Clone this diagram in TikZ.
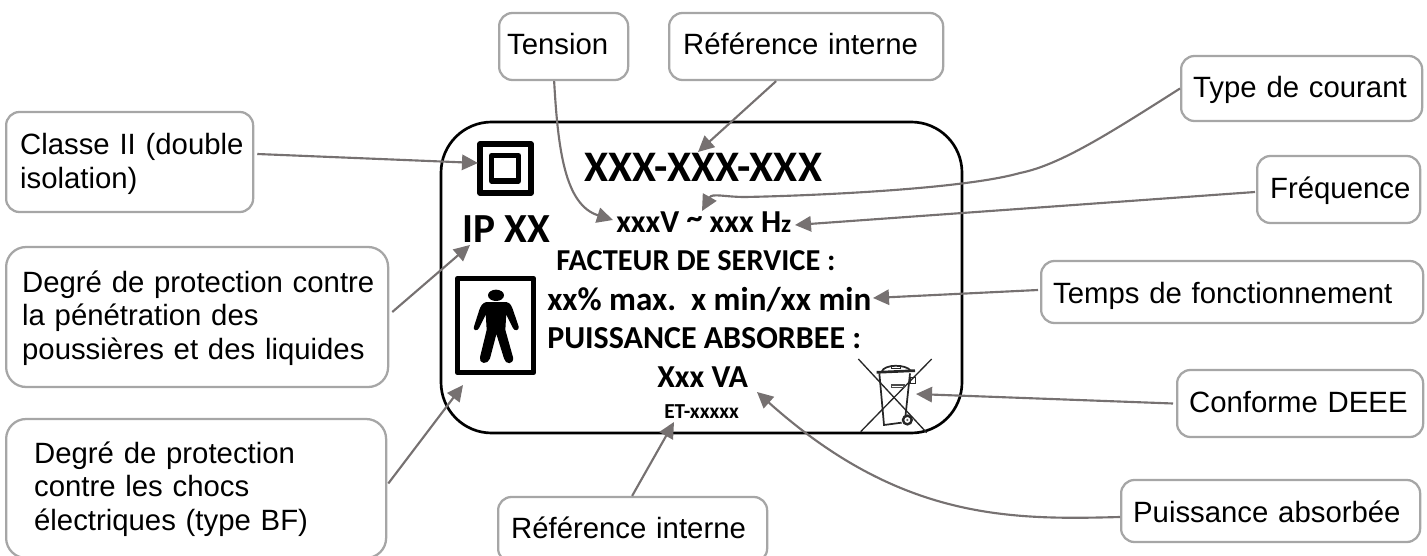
\documentclass[tikz,border=0pt]{standalone}
\usepackage{fontspec}
\setmainfont{Liberation Sans}
\newfontfamily\lab{Carlito}[BoldFont=Carlito Bold]
\usetikzlibrary{arrows.meta,calc}
\definecolor{boxgray}{RGB}{166,166,166}
\definecolor{arrowgray}{RGB}{118,113,113}
% callout={left}{top}{right}{bottom}{text left}{first baseline}, in reference pixels
\tikzset{
  callout/.style n args={6}{draw=boxgray,line width=1.7pt,anchor=base west,align=left,
    inner ysep=0pt,inner xsep={(#5-#1)*0.75pt},
    text width={(#3-#1-2*(#5-#1))*0.75pt},
    text height={(#6-#2)*0.75pt},text depth={(#4-#6)*0.75pt},
    font=\fontsize{22}{25.4}\selectfont},
  smallround/.style={rounded corners=10pt},
  biground/.style={rounded corners=15pt},
  pointer/.style={draw=arrowgray,line width=1.6pt,-{Triangle[length=12pt,width=11.5pt]}},
  plate/.style={inner sep=0pt,anchor=base west,font=\lab\bfseries\fontsize{#1}{#1}\selectfont},
  ink/.style={draw=black,line width=#1,line join=round}
}
\begin{document}
\begin{tikzpicture}[x=0.75pt,y=-0.75pt]
\useasboundingbox (0,0) rectangle (1427,556);
% plate
\draw[black,line width=2pt,rounded corners=38pt] (441,122) rectangle (962,433);
% plate texts
\node[plate=32.7] (code) at (584,181) {XXX-XXX-XXX};
\node[plate=31] (ip) at (462,242) {IP XX};
\node[plate=24] (volt) at (616,232) {xxxV \raisebox{2.5pt}{\char`~}{} xxx H{\fontsize{19}{19}\selectfont z}};
\node[plate=22.8] (fact) at (556,270) {FACTEUR DE SERVICE :};
\node[plate=24.8] (duty) at (547,310) {xx\% max.\ \ x min/xx min};
\node[plate=24] (power) at (547,348) {PUISSANCE ABSORBEE :};
\node[plate=24] (va) at (657,387) {Xxx VA};
\node[plate=16] (et) at (664,418) {ET-xxxxx};
% class II symbol
\draw[ink=4pt] (480,144) rectangle (531,193);
\draw[ink=3.8pt] (491.5,155.5) rectangle (518.5,181);
% body symbol
\draw[ink=4pt] (457.5,278.5) rectangle (533.5,372.5);
\begin{scope}[shift={(430,270)},x=0.25pt,y=-0.25pt]
\fill[black] (198,76) ellipse [x radius=24,y radius=17];
\draw[black,fill=black,line width=1pt,line join=round]
  (170,98) -- (228,98) .. controls (240,100) and (243,110) .. (247,120)
  -- (264,170) .. controls (266,180) and (254,182) .. (250,172)
  -- (227,126) -- (224,180) -- (247,262) .. controls (250,282) and (228,282) .. (224,265)
  -- (199,185) -- (178,265) .. controls (172,282) and (148,280) .. (152,262)
  -- (172,180) -- (169,126) -- (146,172) .. controls (142,182) and (130,180) .. (134,170)
  -- (150,120) .. controls (154,110) and (158,100) .. (170,98) -- cycle;
\end{scope}
% recycling bin
\begin{scope}[shift={(780,340)},x=0.25pt,y=-0.25pt]
\draw[black!85,line width=1pt] (235,57) -- (440,278);
\draw[black!85,line width=1pt] (455,57) -- (242,275);
\draw[black!85,line width=1.3pt] (298,100) -- (312,255) -- (365,248);
\draw[black!85,line width=1.3pt] (390,100) -- (376,232);
\draw[black!85,line width=2pt] (290,97) -- (405,92);
\draw[black!85,line width=1.3pt] (305,95) .. controls (312,72) and (378,72) .. (392,92);
\draw[black!85,line width=0.7pt] (335,77) rectangle (362,85);
\draw[black!85,line width=1pt] (390,112) rectangle (407,130);
\draw[black!70,line width=1pt] (335,135) rectangle (372,142);
\draw[black!85,line width=1.8pt] (382,240) circle [radius=13];
\fill[black!60] (382,240) circle [radius=4];
\end{scope}
% callouts
\node[callout={498}{13}{627}{80}{506}{55},smallround] (tension) at (498,55) {\mbox{Tension}};
\node[callout={668}{13}{942}{80}{682}{55},smallround] (refa) at (668,55) {\mbox{Référence interne}};
\node[callout={1180}{56}{1421}{121}{1192}{98},smallround] (courant) at (1180,98) {\mbox{Type de courant}};
\node[callout={1256}{156}{1419}{223}{1269}{198},smallround] (freq) at (1256,198) {\mbox{Fréquence}};
\node[callout={1040}{261}{1422}{323}{1052}{303},smallround] (temps) at (1040,303) {\mbox{Temps de fonctionnement}};
\node[callout={1176}{370}{1422}{437}{1188}{412},smallround] (deee) at (1176,412) {\mbox{Conforme DEEE}};
\node[callout={1120}{480}{1419}{542}{1132}{522},smallround] (abs) at (1120,522) {\mbox{Puissance absorbée}};
\node[callout={497}{497}{766}{562}{510}{538},smallround] (refb) at (497,538) {\mbox{Référence interne}};
\node[callout={5}{112}{252}{212}{19}{155},smallround] (classe) at (5,155) {\mbox{Classe II (double}\\isolation)};
\node[callout={5}{247}{387}{387}{21}{292},biground] (ipbox) at (5,292) {\mbox{Degré de protection contre}\\\mbox{la pénétration des}\\\mbox{poussières et des liquides}};
\node[callout={5}{419}{385}{558}{33}{463},biground] (chocs) at (5,463) {\mbox{Degré de protection}\\\mbox{contre les chocs}\\\mbox{électriques (type BF)}};
% connector tips
\coordinate (tipA) at (613,220);
\coordinate (tipB) at (698,152);
\coordinate (tipC) at (702,211);
\coordinate (tipD) at (795,225);
\coordinate (tipE) at (478,163);
\coordinate (tipF) at (470,245);
\coordinate (tipG) at (463,385);
\coordinate (tipH) at (674,422);
\coordinate (tipI) at (873,298);
\coordinate (tipJ) at (916,394);
\coordinate (tipK) at (757,392);
% connectors
\draw[pointer] ($(tension.south)+(-9.5,0)$) .. controls (558,150) and (565,205) .. (tipA);
\draw[pointer] ($(refa.south)+(-30,0)$) -- (tipB);
\draw[pointer] (courant.west) .. controls (1110,133) and (1060,165) .. (1020,173) .. controls (960,190) and (800,196) .. (745,197) .. controls (725,197) and (712,193) .. (tipC);
\draw[pointer] ($(freq.west)+(-1,2.5)$) -- (tipD);
\draw[pointer] ($(classe.east)+(3,-8)$) -- (tipE);
\draw[pointer] ($(ipbox.east)+(3,-5)$) -- (tipF);
\draw[pointer] ($(chocs.east)+(1,-5)$) -- (tipG);
\draw[pointer] ($(refb.north)+(-0.5,0)$) -- (tipH);
\draw[pointer] ($(temps.west)+(-2,-2)$) -- (tipI);
\draw[pointer] ($(deee.west)+(-3,0)$) -- (tipJ);
\draw[pointer] ($(abs.west)+(0,6)$) .. controls (1010,520) and (900,520) .. (tipK);
\end{tikzpicture}
\end{document}
